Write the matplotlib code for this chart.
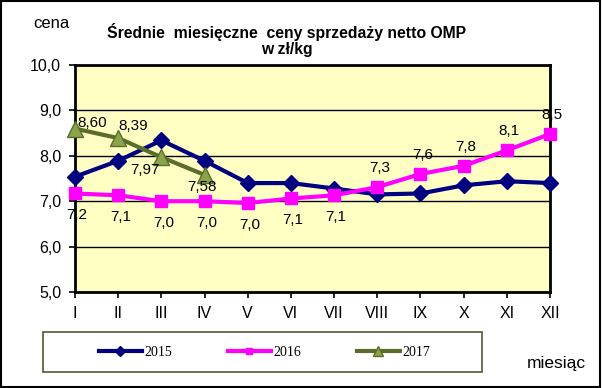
import matplotlib
matplotlib.use('Agg')
import matplotlib.pyplot as plt
from matplotlib.patches import Rectangle

months = ['I', 'II', 'III', 'IV', 'V', 'VI', 'VII', 'VIII', 'IX', 'X', 'XI', 'XII']
y2015 = [7.54, 7.89, 8.34, 7.89, 7.40, 7.40, 7.28, 7.15, 7.17, 7.35, 7.44, 7.40]
y2016 = [7.17, 7.13, 7.00, 7.00, 6.96, 7.06, 7.13, 7.31, 7.60, 7.78, 8.12, 8.48]
lab2016 = ['7,2', '7,1', '7,0', '7,0', '7,0', '7,1', '7,1', '7,3', '7,6', '7,8', '8,1', '8,5']
y2017 = [8.60, 8.39, 7.97, 7.58]
lab2017 = ['8,60', '8,39', '7,97', '7,58']

plt.rcParams['font.family'] = ['Liberation Sans', 'DejaVu Sans']

fig = plt.figure(figsize=(6.02, 3.88), dpi=100)
fig.patches.append(Rectangle((0.002, 0.003), 0.995, 0.994, transform=fig.transFigure,
                             fill=False, edgecolor='black', linewidth=1.5))
ax = fig.add_axes([0.1246, 0.2474, 0.789, 0.585])
ax.set_facecolor('#FFFFC4')

x = list(range(len(months)))
ax.plot(x, y2015, color='#000080', lw=3, marker='D', ms=8, label='2015', clip_on=False, zorder=3)
ax.plot(x, y2016, color='#FF00FF', lw=3, marker='s', ms=8, label='2016', clip_on=False, zorder=3)
ax.plot(x[:len(y2017)], y2017, color='#5A6E2A', lw=3, marker='^', ms=11,
        markerfacecolor='#8BA34A', markeredgecolor='#5A6E2A', label='2017', clip_on=False, zorder=4)

# data labels: 2016 below the line for I-VII, above from VIII on
for i, (v, t) in enumerate(zip(y2016, lab2016)):
    dy = -0.48 if i < 7 else 0.42
    ax.text(i + 0.05, v + dy, t, ha='center', va='center', fontsize=11, zorder=5)

offs = [(0.4, 0.12), (0.35, 0.26), (-0.37, -0.29), (-0.05, -0.27)]
for i, (v, t) in enumerate(zip(y2017, lab2017)):
    dx, dy = offs[i]
    ax.text(i + dx, v + dy, t, ha='center', va='center', fontsize=11, zorder=5)

ax.set_xlim(0, 11)
ax.set_ylim(5, 10)
ax.set_xticks(x)
ax.set_xticklabels(months)
ax.set_yticks([5, 6, 7, 8, 9, 10])
ax.set_yticklabels(['5,0', '6,0', '7,0', '8,0', '9,0', '10,0'])
ax.tick_params(labelsize=11.5, direction='out', length=4, width=1.2, pad=6)
ax.grid(axis='y', color='black', lw=1)
ax.set_axisbelow(True)
for s in ax.spines.values():
    s.set_linewidth(2)

fig.text(0.476, 0.897, 'Średnie  miesięczne  ceny sprzedaży netto OMP\nw zł/kg',
         ha='center', va='center', fontsize=11.3, fontweight='bold', linespacing=1.05)
fig.text(0.055, 0.94, 'cena', ha='left', va='center', fontsize=12)
fig.text(0.875, 0.064, 'miesiąc', ha='left', va='center', fontsize=12.5)

# legend frame drawn separately
fig.patches.append(Rectangle((43 / 602, 1 - 372 / 388), 439 / 602, 40 / 388,
                             transform=fig.transFigure, fill=False,
                             edgecolor='#555533', linewidth=1.2))
h, l = ax.get_legend_handles_labels()
leg = fig.legend(h, l, loc='center', bbox_to_anchor=(0.4394, 1 - 352 / 388), ncol=3,
                 frameon=False, prop={'family': 'Liberation Serif', 'size': 10},
                 handlelength=3.1, handletextpad=0.2, columnspacing=4.0, markerscale=0.6)

fig.savefig('out.png', dpi=100)
